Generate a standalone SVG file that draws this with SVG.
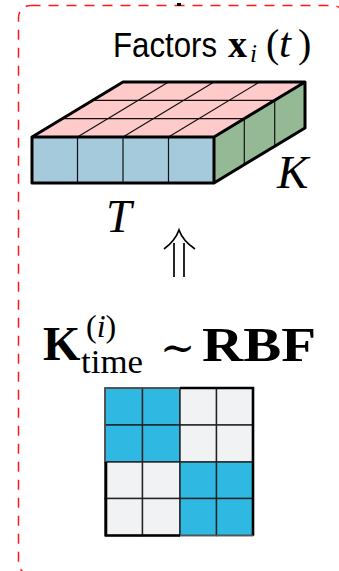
<svg xmlns="http://www.w3.org/2000/svg" width="339" height="571" viewBox="0 0 339 571">
<style>
.frame{fill:none;stroke:#ff1a1a;stroke-width:1.5;stroke-dasharray:10 8}
.outer{stroke:#000;stroke-width:3;stroke-linejoin:round}
.grid{stroke:#111;stroke-width:1.2;fill:none}
.sans{font-family:"Liberation Sans",Arial,sans-serif}
.serif{font-family:"Liberation Serif","Times New Roman",serif}
.conn{fill:none;stroke:#000;stroke-width:1.7;stroke-linecap:butt}
.blue{fill:#2eb8e2}
.gray{fill:#f1f2f4}
.cell{stroke:#222;stroke-width:1.4}
</style>
<rect class="frame" x="18.5" y="5.5" width="326" height="569" rx="12"/>
<rect x="177" y="3" width="4" height="3" fill="#000"/>

<g id="factors">
  <polygon points="32,137 123,82 305,82 214,137" fill="#ffcaca"/>
  <polygon points="214,137 305,82 305,128 214,183" fill="#94b994"/>
  <rect x="32" y="137" width="182" height="46" fill="#a4cadc"/>
  <g class="grid">
    <line x1="77.5" y1="137" x2="168.5" y2="82"/>
    <line x1="123" y1="137" x2="214" y2="82"/>
    <line x1="168.5" y1="137" x2="259.5" y2="82"/>
    <line x1="62.3" y1="118.7" x2="244.3" y2="118.7"/>
    <line x1="92.7" y1="100.3" x2="274.7" y2="100.3"/>
    <line x1="77.5" y1="137" x2="77.5" y2="183"/>
    <line x1="123" y1="137" x2="123" y2="183"/>
    <line x1="168.5" y1="137" x2="168.5" y2="183"/>
    <line x1="244.3" y1="118.7" x2="244.3" y2="164.7"/>
    <line x1="274.7" y1="100.3" x2="274.7" y2="146.3"/>
  </g>
  <path class="outer" fill="none" d="M32,137 L123,82 L305,82 L305,128 L214,183 L32,183 Z M32,137 L214,137 L305,82 M214,137 L214,183"/>
  <text y="57"><tspan class="sans" x="113" font-size="35" textLength="104" lengthAdjust="spacingAndGlyphs">Factors</tspan><tspan class="serif" x="228" font-size="38" font-weight="bold">x</tspan><tspan class="serif" x="250" dy="5" font-size="25" font-style="italic">i</tspan><tspan class="serif" x="266" dy="-5" font-size="40">(</tspan><tspan class="serif" x="279" font-size="43" font-style="italic">t</tspan><tspan class="serif" x="298" font-size="40">)</tspan></text>
  <text class="serif" x="277" y="188" font-size="47" font-style="italic">K</text>
  <text class="serif" x="106" y="232" font-size="46" font-style="italic">T</text>
</g>

<g id="connectors">
  <path class="conn" d="M174,243 V277 M184,243 V277 M164,249 Q175,241 179,230 Q183,241 195,249"/>
</g>

<g id="kernel">
  <text class="serif" x="43" y="360" font-size="48" font-weight="bold">K</text>
  <text class="serif" y="337" font-size="32"><tspan x="86">(</tspan><tspan font-style="italic">i</tspan><tspan>)</tspan></text>
  <text class="serif" x="81" y="373" font-size="34" textLength="62" lengthAdjust="spacingAndGlyphs">time</text>
  <text x="160" y="362" font-size="42" font-family="DejaVu Serif, serif">∼</text>
  <text class="serif" x="202" y="361" font-size="48" font-weight="bold" textLength="114" lengthAdjust="spacingAndGlyphs">RBF</text>
</g>

<g id="matrix">
  <rect class="blue cell" x="105" y="388" width="37.5" height="37"/>
  <rect class="blue cell" x="142.5" y="388" width="37.5" height="37"/>
  <rect class="gray cell" x="180" y="388" width="36.5" height="37"/>
  <rect class="gray cell" x="216.5" y="388" width="36.5" height="37"/>
  <rect class="blue cell" x="105" y="425" width="37.5" height="37"/>
  <rect class="blue cell" x="142.5" y="425" width="37.5" height="37"/>
  <rect class="gray cell" x="180" y="425" width="36.5" height="37"/>
  <rect class="gray cell" x="216.5" y="425" width="36.5" height="37"/>
  <rect class="gray cell" x="105" y="462" width="37.5" height="36.5"/>
  <rect class="gray cell" x="142.5" y="462" width="37.5" height="36.5"/>
  <rect class="blue cell" x="180" y="462" width="36.5" height="36.5"/>
  <rect class="blue cell" x="216.5" y="462" width="36.5" height="36.5"/>
  <rect class="gray cell" x="105" y="498.5" width="37.5" height="37"/>
  <rect class="gray cell" x="142.5" y="498.5" width="37.5" height="37"/>
  <rect class="blue cell" x="180" y="498.5" width="36.5" height="37"/>
  <rect class="blue cell" x="216.5" y="498.5" width="36.5" height="37"/>
  <path fill="none" stroke="#000" stroke-width="2.6" d="M180,388 H253 V535.5 M106,462 V535.5 H180"/>
  <path fill="none" stroke="#555" stroke-width="1.6" d="M180,388 H105 V462 M180,535.5 H253"/>
</g>
</svg>
